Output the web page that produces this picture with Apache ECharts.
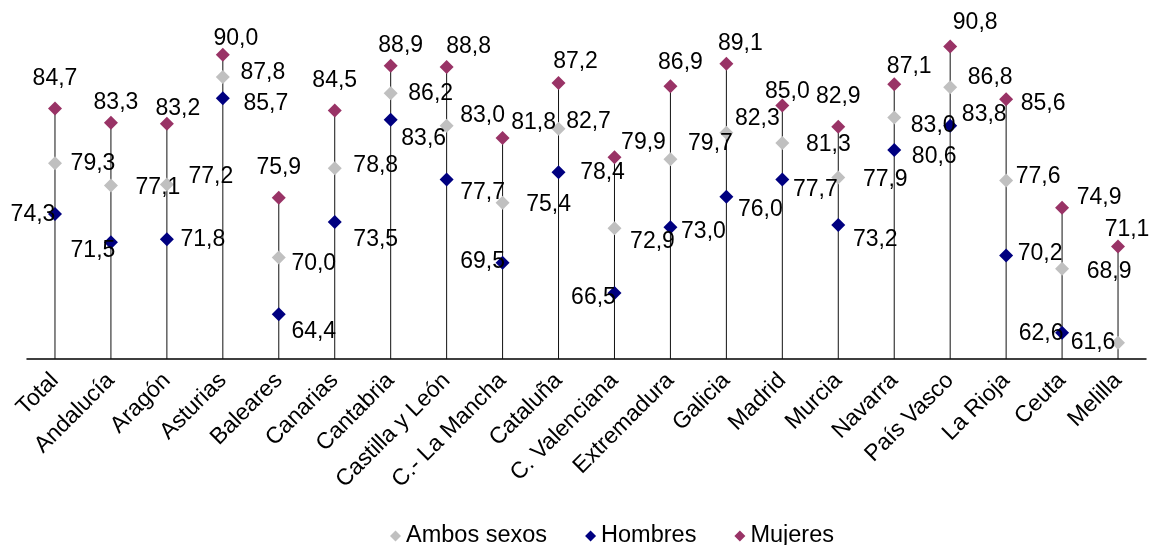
<!DOCTYPE html>
<html>
<head>
<meta charset="utf-8">
<script src="https://cdn.jsdelivr.net/npm/echarts@6/dist/echarts.min.js"></script>
<style>html,body{margin:0;padding:0;background:#fff}#c{width:1151px;height:545px}</style>
</head>
<body>
<div id="c"></div>
<script>
const categories = ['Total','Andalucía','Aragón','Asturias','Baleares','Canarias','Cantabria','Castilla y León','C.- La Mancha','Cataluña','C. Valenciana','Extremadura','Galicia','Madrid','Murcia','Navarra','País Vasco','La Rioja','Ceuta','Melilla'];
const ambos   = [79.3,77.1,77.2,87.8,70.0,78.8,86.2,83.0,75.4,82.7,72.9,79.7,82.3,81.3,77.9,83.8,86.8,77.6,68.9,61.6];
const hombres = [74.3,71.5,71.8,85.7,64.4,73.5,83.6,77.7,69.5,78.4,66.5,73.0,76.0,77.7,73.2,80.6,83.0,70.2,62.6,null];
const mujeres = [84.7,83.3,83.2,90.0,75.9,84.5,88.9,88.8,81.8,87.2,79.9,86.9,89.1,85.0,82.9,87.1,90.8,85.6,74.9,71.1];

// label placement (pixel offsets from marker centre), kept apart from the data
const offAmbos = [[38,0],[47,2],[44,-8],[40,-4],[35,6],[41,-3],[40,0],[36,-10],[46,2],[30,-7],[38,13],[40,-16],[31,-14],[46,2],[47,2],[90,-3],[40,-10],[32,-4],[47,3],[-25,0]];
const offHombres = [[-22,1],[-18,8],[36,0],[43,5],[35,17],[41,18],[33,19],[36,13],[-20,-1],[44,0],[-21,5],[33,5],[34,13],[33,10],[37,15],[40,7],[-17,0],[34,-2],[-21,1],[0,0]];
const offMujeres = [[0,-30],[5,-20],[11,-15],[13,-16],[0,-30],[0,-30],[10,-20],[22,-20],[31,-15],[17,-21],[29,-15],[10,-24],[14,-20],[5,-14],[0,-30],[15,-17],[25,-24],[37,4],[37,-10],[9,-17]];

const FONT = '"Liberation Sans", Arial, sans-serif';
const fmt = v => v.toFixed(1).replace('.', ',');
const stems = categories.map((c, i) => Math.max(...[ambos[i], hombres[i], mujeres[i]].filter(v => v != null)));

function items(vals, offs) {
  return vals.map((v, i) => v == null ? null : ({ value: v, label: { offset: offs[i] } }));
}
function sc(name, vals, offs, color) {
  return {
    name, type: 'scatter', symbol: 'diamond', symbolSize: 14,
    itemStyle: { color, opacity: 1 },
    data: items(vals, offs),
    label: {
      show: true, position: 'inside', color: '#000',
      textBorderWidth: 0, fontFamily: FONT, fontSize: 23,
      formatter: p => fmt(p.value)
    },
    emphasis: { disabled: true },
    z: 3
  };
}

const chart = echarts.init(document.getElementById('c'), null, { renderer: 'canvas' });
chart.setOption({
  animation: false,
  backgroundColor: '#fff',
  grid: { left: 27, right: 5, top: 4, bottom: 186, containLabel: false, outerBoundsMode: 'none' },
  xAxis: {
    type: 'category', data: categories, boundaryGap: true,
    axisLine: { lineStyle: { color: '#000', width: 1.5 } },
    axisTick: { show: false },
    axisLabel: { rotate: 45, margin: 18, fontSize: 23, fontFamily: FONT, color: '#000', interval: 0 }
  },
  yAxis: { type: 'value', min: 60, max: 95, show: false, splitLine: { show: false } },
  legend: {
    data: ['Ambos sexos', 'Hombres', 'Mujeres'],
    top: 519, left: 385, icon: 'diamond', itemWidth: 11, itemHeight: 11, itemGap: 38,
    textStyle: { fontSize: 23.5, fontFamily: FONT, color: '#000' }
  },
  series: [
    { name: 'stem', type: 'bar', data: stems, barWidth: 1, itemStyle: { color: '#111' }, silent: true, z: 1 },
    sc('Ambos sexos', ambos, offAmbos, '#C0C0C0'),
    sc('Hombres', hombres, offHombres, '#000080'),
    sc('Mujeres', mujeres, offMujeres, '#993366')
  ]
});
</script>
</body>
</html>
